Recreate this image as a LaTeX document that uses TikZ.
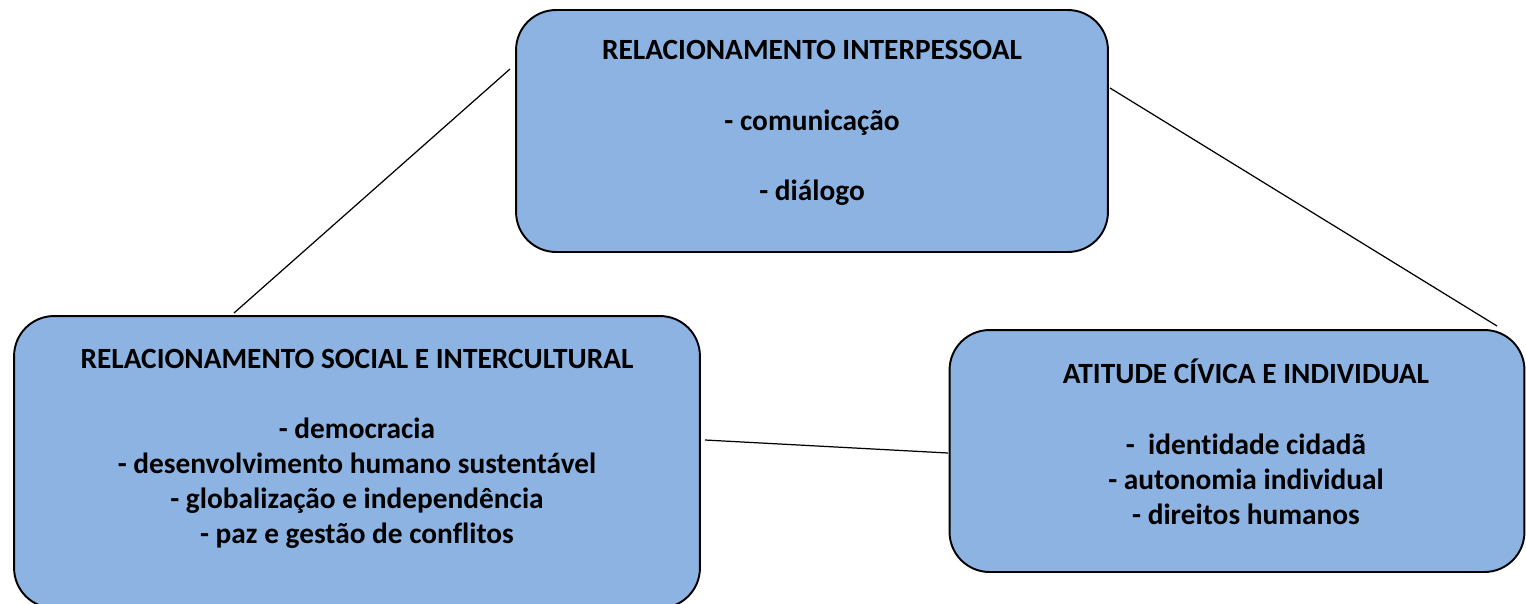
\documentclass[tikz,border=0pt]{standalone}
\usepackage{fontspec}
\setmainfont{Carlito}[Ligatures=NoCommon]
\definecolor{boxblue}{HTML}{8DB3E2}
\tikzset{
  panel/.style={draw=black,line width=1.1pt,fill=boxblue,rounded corners=0.8cm},
  paneltext/.style={align=center,font=\fontsize{16.7}{20}\selectfont\bfseries,inner sep=0pt},
  link/.style={line width=0.7pt}
}
\begin{document}
\begin{tikzpicture}[x=0.02cm,y=-0.02cm]
	\useasboundingbox (0,0) rectangle (1526,603);
	% the three boxes
	\node[panel,minimum width=11.84cm,minimum height=4.84cm] (inter) at (812,131) {};
	\node[panel,minimum width=13.72cm,minimum height=5.84cm] (social) at (357,462) {};
	\node[panel,minimum width=11.5cm,minimum height=4.84cm] (civica) at (1237,451) {};
	\node[paneltext] (intertxt) at (812,123) {RELACIONAMENTO INTERPESSOAL\\[20pt]- comunicação\\[20pt]- diálogo};
	\node[paneltext] (socialtxt) at (357,449) {RELACIONAMENTO SOCIAL E INTERCULTURAL\\[20pt]- democracia\\- desenvolvimento humano sustentável\\- globalização e independência\\- paz e gestão de conflitos};
	\node[paneltext] (civicatxt) at (1246,442) {ATITUDE CÍVICA E INDIVIDUAL\\[20pt]-~ identidade cidadã\\- autonomia individual\\- direitos humanos};
	% line ends
	\coordinate (interW) at (510,69);
	\coordinate (interE) at (1110,88);
	\coordinate (socialN) at (234,313);
	\coordinate (socialE) at (705,440);
	\coordinate (civicaN) at (1497,326);
	\coordinate (civicaW) at (948,453);
	\draw[link] (interW) -- (socialN);
	\draw[link] (interE) -- (civicaN);
	\draw[link] (socialE) -- (civicaW);
\end{tikzpicture}
\end{document}
